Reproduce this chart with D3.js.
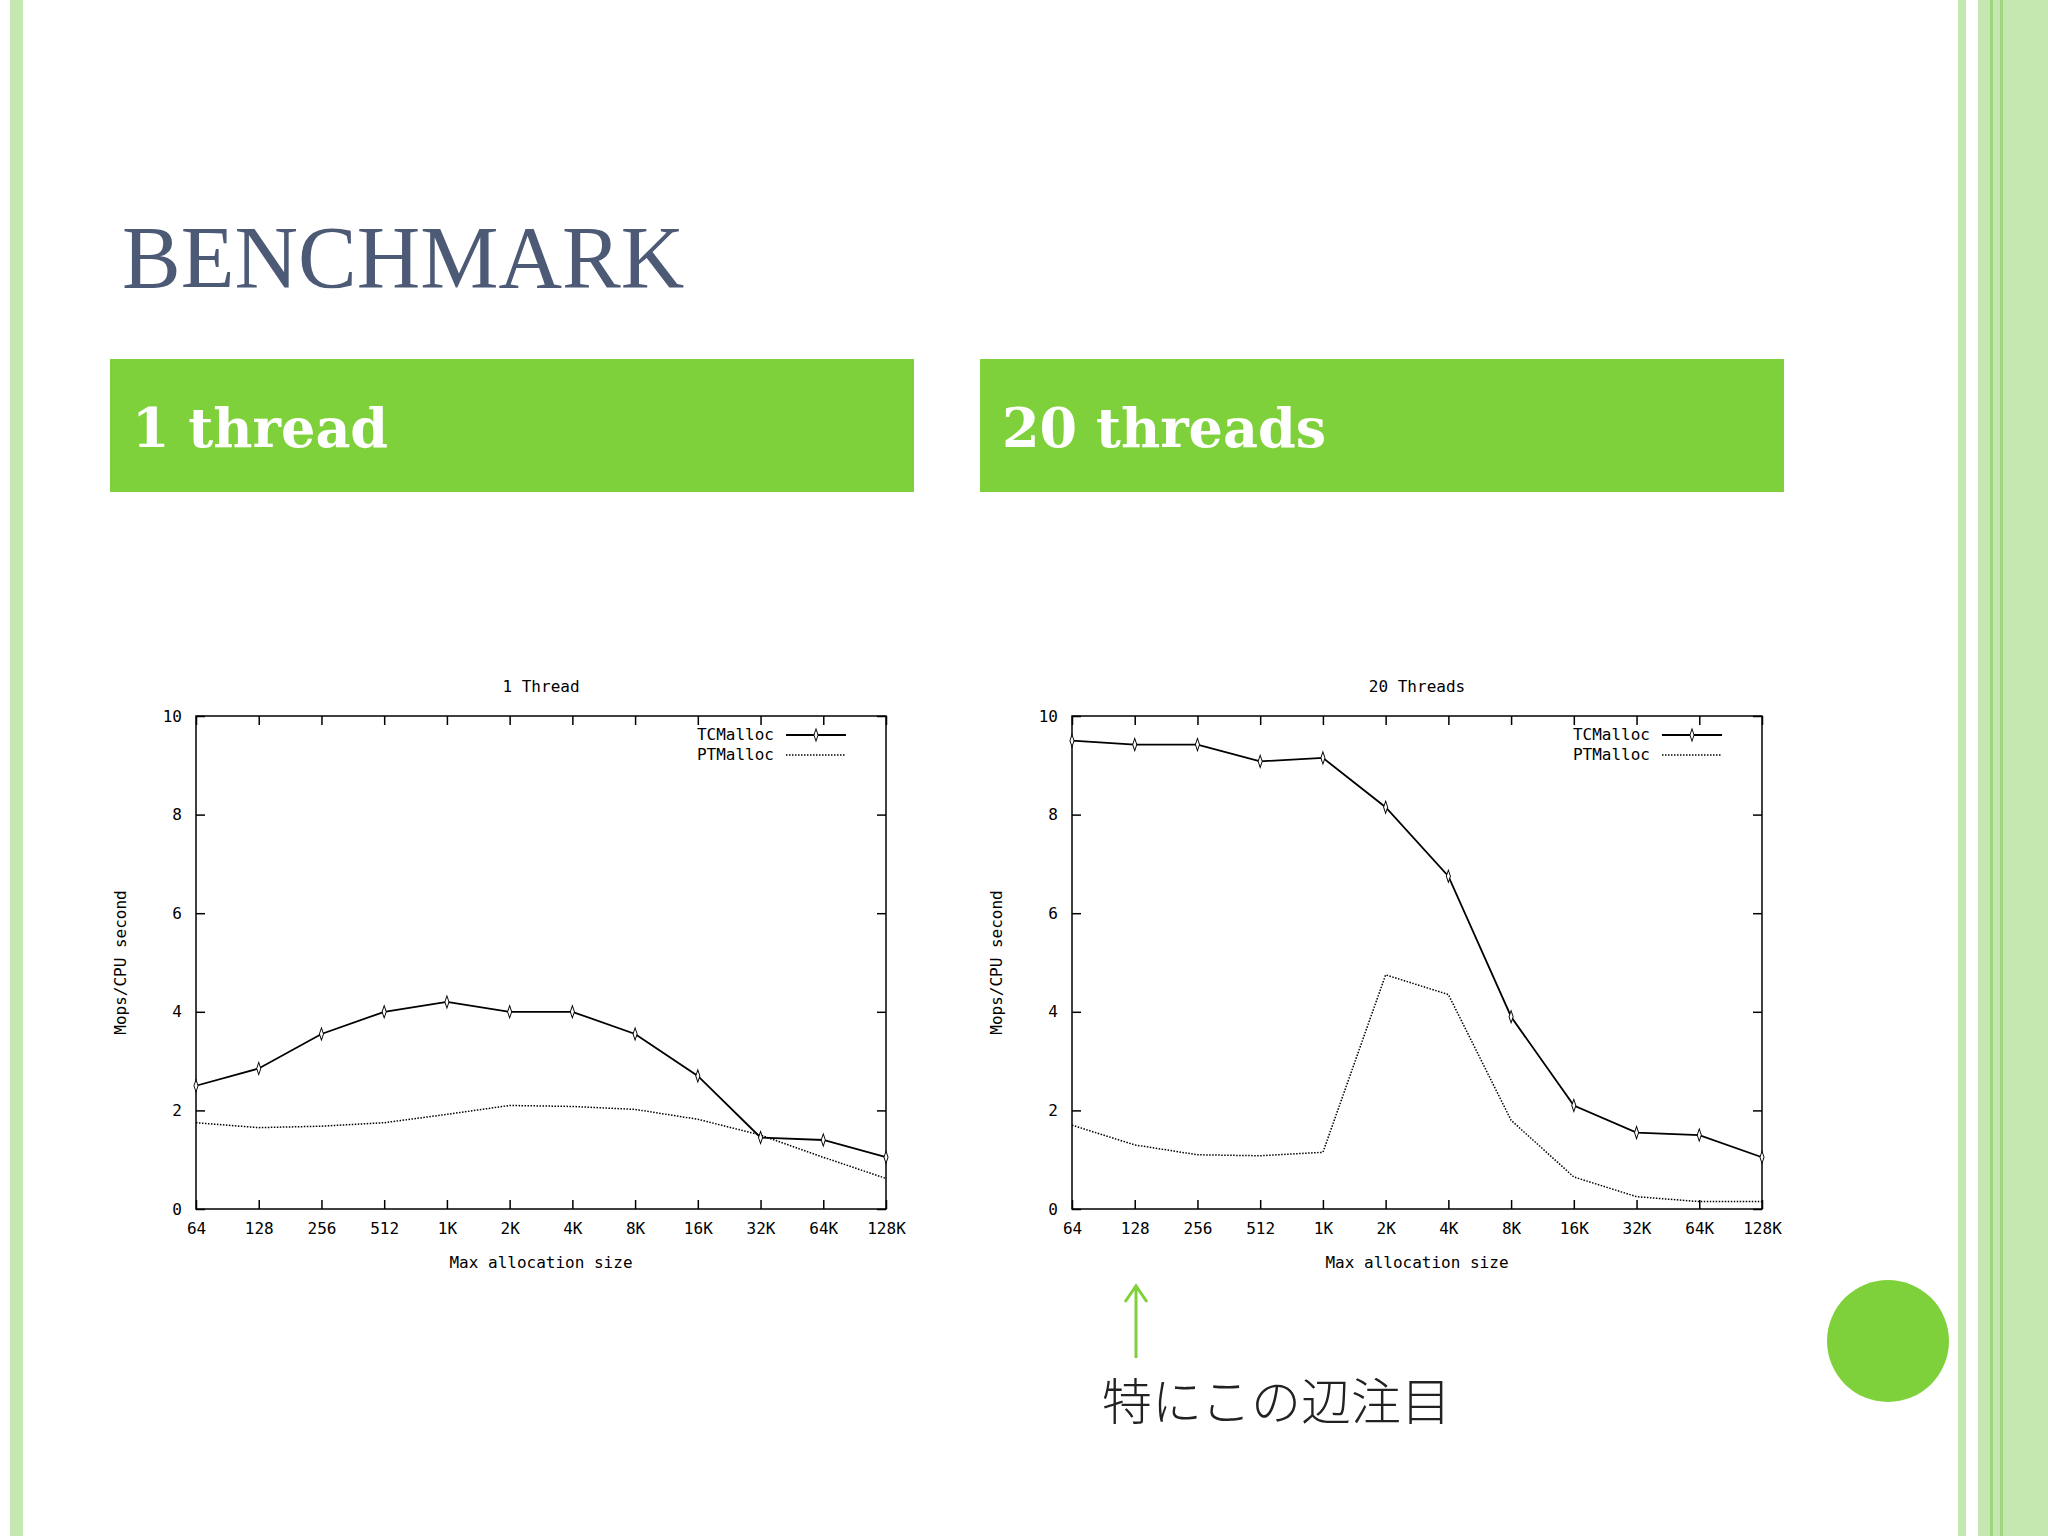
<!DOCTYPE html>
<html><head><meta charset="utf-8">
<script src="https://cdn.jsdelivr.net/npm/d3@7"></script>
<style>body{margin:0;background:#fff}</style>
</head><body>
<svg id="c" width="2048" height="1536"></svg>
<script>
const sizes = ['64','128','256','512','1K','2K','4K','8K','16K','32K','64K','128K'];
const yTicks = [0, 2, 4, 6, 8, 10];
const tc1 = [2.5, 2.85, 3.55, 4.0, 4.2, 4.0, 4.0, 3.55, 2.7, 1.45, 1.4, 1.05];
const pt1 = [1.75, 1.65, 1.68, 1.75, 1.92, 2.1, 2.08, 2.02, 1.82, 1.5, 1.05, 0.62];
const tc20 = [9.5, 9.42, 9.42, 9.08, 9.15, 8.15, 6.75, 3.9, 2.1, 1.55, 1.5, 1.05];
const pt20 = [1.7, 1.3, 1.1, 1.08, 1.15, 4.75, 4.35, 1.8, 0.65, 0.25, 0.15, 0.15];

const svg = d3.select('#c');
const green = '#7fd13b';

// slide decoration
svg.append('rect').attr('x', 10).attr('y', 0).attr('width', 13).attr('height', 1536).attr('fill', '#c5e8b0');
svg.append('rect').attr('x', 1958).attr('y', 0).attr('width', 8).attr('height', 1536).attr('fill', '#c5e8b0');
svg.append('rect').attr('x', 1978).attr('y', 0).attr('width', 70).attr('height', 1536).attr('fill', '#c5e8b0');
[1990, 2000].forEach(x => svg.append('rect').attr('x', x).attr('y', 0).attr('width', 3).attr('height', 1536).attr('fill', '#9fd77f'));
svg.append('circle').attr('cx', 1888).attr('cy', 1341).attr('r', 61).attr('fill', green);

svg.append('text').attr('x', 122).attr('y', 287).attr('font-family', 'Liberation Serif').attr('font-size', 88)
    .attr('fill', '#4d5a75').text('BENCHMARK');

[[110, '1 thread'], [980, '20 threads']].forEach(([x, t]) => {
    svg.append('rect').attr('x', x).attr('y', 359).attr('width', 804).attr('height', 133).attr('fill', green);
    svg.append('text').attr('x', x + 22).attr('y', 447).attr('font-family', 'DejaVu Serif').attr('font-weight', 'bold')
        .attr('font-size', 54).attr('fill', '#fff').text(t);
});

// annotation
svg.append('line').attr('x1', 1136).attr('x2', 1136).attr('y1', 1288).attr('y2', 1358).attr('stroke', green).attr('stroke-width', 3);
svg.append('path').attr('d', 'M1125,1302 L1136,1286 L1147,1302').attr('fill', 'none').attr('stroke', green).attr('stroke-width', 3);
svg.append('text').attr('x', 1102).attr('y', 1420).attr('font-family', 'Noto Sans CJK JP').attr('font-weight', 300)
    .attr('font-size', 50).attr('fill', '#222').text('特にこの辺注目');

function makeChart(left, title, tc, pt) {
    const top = 716, width = 690, height = 493;
    const g = svg.append('g').attr('transform', 'translate(' + left + ',' + top + ')')
        .attr('font-family', 'DejaVu Sans Mono').attr('font-size', 16);

    const x = d3.scalePoint().domain(sizes).range([0, width]);
    const y = d3.scaleLinear().domain([0, 10]).range([height, 0]);

    g.append('rect').attr('width', width).attr('height', height).attr('fill', 'none').attr('stroke', '#000').attr('stroke-width', 1.5);

    const ax = g.append('g').attr('transform', 'translate(0,' + height + ')')
        .call(d3.axisBottom(x).tickSize(-9).tickPadding(14));
    g.append('g').call(d3.axisTop(x).tickSize(-9).tickFormat(''));
    g.append('g').call(d3.axisLeft(y).tickValues(yTicks).tickSize(-9).tickPadding(14));
    g.append('g').attr('transform', 'translate(' + width + ',0)').call(d3.axisRight(y).tickValues(yTicks).tickSize(-9).tickFormat(''));
    g.selectAll('.domain').remove();
    g.selectAll('.tick text').attr('font-family', 'DejaVu Sans Mono').attr('font-size', 16).attr('fill', '#000');
    g.selectAll('.tick line').attr('stroke', '#000').attr('stroke-width', 1.5);

    g.append('text').attr('x', width / 2).attr('y', -24).attr('text-anchor', 'middle').text(title);
    g.append('text').attr('x', width / 2).attr('y', height + 59).attr('text-anchor', 'middle').text('Max allocation size');
    g.append('text').attr('transform', 'translate(-70,' + (height / 2) + ') rotate(-90)').attr('text-anchor', 'middle').text('Mops/CPU second');

    const line = d3.line().x((d, i) => x(sizes[i])).y(d => y(d));
    g.append('path').attr('d', line(pt)).attr('fill', 'none').attr('stroke', '#000').attr('stroke-width', 1.5).attr('stroke-dasharray', '1.5,1.5');
    g.append('path').attr('d', line(tc)).attr('fill', 'none').attr('stroke', '#000').attr('stroke-width', 1.8);
    g.selectAll('.pt').data(tc).enter().append('path')
        .attr('d', d3.symbol(d3.symbolDiamond, 30))
        .attr('transform', (d, i) => 'translate(' + x(sizes[i]) + ',' + y(d) + ') scale(0.7,1.2)')
        .attr('fill', '#fff').attr('stroke', '#000').attr('stroke-width', 1.2);

    // legend
    const lx = width - 100;
    g.append('text').attr('x', lx - 12).attr('y', 24).attr('text-anchor', 'end').text('TCMalloc');
    g.append('line').attr('x1', lx).attr('x2', lx + 60).attr('y1', 19).attr('y2', 19).attr('stroke', '#000').attr('stroke-width', 1.8);
    g.append('path').attr('d', d3.symbol(d3.symbolDiamond, 30)).attr('transform', 'translate(' + (lx + 30) + ',19) scale(0.7,1.2)')
        .attr('fill', '#fff').attr('stroke', '#000').attr('stroke-width', 1.2);
    g.append('text').attr('x', lx - 12).attr('y', 44).attr('text-anchor', 'end').text('PTMalloc');
    g.append('line').attr('x1', lx).attr('x2', lx + 60).attr('y1', 39).attr('y2', 39).attr('stroke', '#000').attr('stroke-width', 1.5).attr('stroke-dasharray', '1.5,1.5');
}

makeChart(196, '1 Thread', tc1, pt1);
makeChart(1072, '20 Threads', tc20, pt20);
</script>
</body></html>
